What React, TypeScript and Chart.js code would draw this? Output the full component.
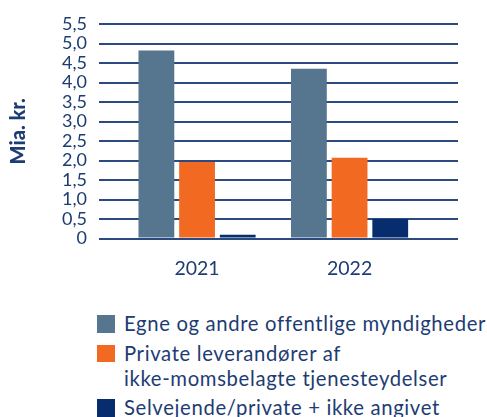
import React, { useEffect, useRef } from "react";
import { Chart, registerables } from "chart.js";

Chart.register(...registerables);

const categories = ["2021", "2022"];
const seriesNames: (string | string[])[] = [
  "Egne og andre offentlige myndigheder",
  ["Private leverandører af", "ikke-momsbelagte tjenesteydelser"],
  "Selvejende/private + ikke angivet",
];
const egneValues = [4.82, 4.35];
const privateValues = [1.96, 2.07];
const selvejendeValues = [0.1, 0.5];
const seriesColors = ["#56758f", "#f26922", "#072d6e"];
const yTicks = [0, 0.5, 1, 1.5, 2, 2.5, 3, 3.5, 4, 4.5, 5, 5.5];
const yTitle = "Mia. kr.";

const TEXT = "#1d3c73";
const GRID = "#2a4a80";
const FONT = "Lato, 'DejaVu Sans', sans-serif";

function toPoints(values: number[]) {
  return values.map((y, i) => ({ x: i, y }));
}

export default function App() {
  const ref = useRef<HTMLCanvasElement | null>(null);

  useEffect(() => {
    if (!ref.current) return;
    const allSeries = [egneValues, privateValues, selvejendeValues];
    const chart = new Chart(ref.current, {
      type: "bar",
      data: {
        datasets: allSeries.map((vals, i) => ({
          label: Array.isArray(seriesNames[i]) ? (seriesNames[i] as string[]).join(" ") : (seriesNames[i] as string),
          data: toPoints(vals),
          backgroundColor: seriesColors[i],
          borderWidth: 0,
          categoryPercentage: 0.8,
          barPercentage: 0.88,
        })),
      },
      options: {
        animation: false,
        responsive: true,
        maintainAspectRatio: false,
        layout: { padding: { left: 0, right: 29, top: 24, bottom: 2 } },
        plugins: {
          legend: { display: false },
          tooltip: { enabled: false },
        },
        scales: {
          x: {
            type: "linear",
            min: -0.643,
            max: 1.711,
            offset: false,
            grid: { display: false, drawTicks: false },
            border: { display: false },
            ticks: {
              stepSize: 1,
              includeBounds: false,
              autoSkip: false,
              maxRotation: 0,
              padding: 18,
              color: TEXT,
              font: { family: FONT, size: 19.5 },
              callback: (v: any) => {
                const idx = Number(v);
                return Number.isInteger(idx) && categories[idx] ? categories[idx] : "";
              },
            },
          },
          y: {
            min: 0,
            max: 5.5,
            afterFit: (scale: any) => {
              scale.width = 99;
            },
            afterBuildTicks: (scale: any) => {
              scale.ticks = yTicks.map((value) => ({ value }));
            },
            grid: { color: GRID, lineWidth: 2, drawTicks: false },
            border: { display: false },
            ticks: {
              autoSkip: false,
              padding: 12,
              color: TEXT,
              font: { family: FONT, size: 18 },
              callback: (v: any) => {
                const n = Number(v);
                return n === 0 ? "0" : n.toFixed(1).replace(".", ",");
              },
            },
            title: {
              display: true,
              text: yTitle,
              color: TEXT,
              font: { family: FONT, size: 20, weight: "900" },
              padding: { top: 7, bottom: 0 },
            },
          },
        },
      },
    });
    return () => chart.destroy();
  }, []);

  return (
    <div
      style={{
        position: "absolute",
        left: 0,
        top: 0,
        width: 487,
        height: 417,
        overflow: "hidden",
        background: "#fff",
      }}
    >
      <div style={{ position: "absolute", left: 0, top: 0, width: 487, height: 300 }}>
        <canvas ref={ref} />
      </div>
      <div
        style={{
          position: "absolute",
          left: 97,
          top: 311.3,
          fontFamily: FONT,
          fontSize: 20.3,
          letterSpacing: "0.65px",
          lineHeight: "25px",
          color: TEXT,
          whiteSpace: "nowrap",
        }}
      >
        {seriesNames.map((name, i) => (
          <div key={i} style={{ display: "flex", alignItems: "flex-start", marginBottom: 4.5 }}>
            <div
              style={{
                width: 17.7,
                height: 17.7,
                marginTop: 3.8,
                marginRight: 9.3,
                background: seriesColors[i],
                flex: "none",
              }}
            />
            <div>
              {(Array.isArray(name) ? name : [name]).map((line, j) => (
                <div key={j}>{line}</div>
              ))}
            </div>
          </div>
        ))}
      </div>
    </div>
  );
}
